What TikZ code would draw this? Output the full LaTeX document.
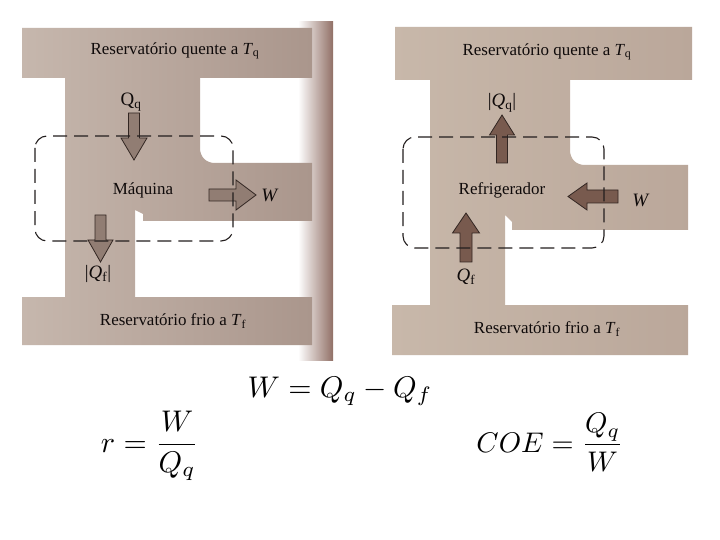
\documentclass[tikz,border=0pt]{standalone}
\usepackage{fontspec}
\setmainfont{Liberation Serif}
\definecolor{tanL}{RGB}{198,183,173}
\definecolor{tanR}{RGB}{170,150,140}
\definecolor{tanRL}{RGB}{200,184,170}
\definecolor{tanRR}{RGB}{186,167,154}
\definecolor{gut}{RGB}{145,112,102}
\definecolor{arrL}{RGB}{145,125,115}
\definecolor{arrR}{RGB}{120,90,78}
\definecolor{arrLine}{RGB}{50,38,34}
\definecolor{boxc}{RGB}{35,30,30}
\definecolor{txt}{RGB}{15,10,10}
\tikzset{
  blockL/.style={fill=arrL, draw=arrLine, line width=0.8bp, line join=miter},
  blockR/.style={fill=arrR, draw=arrLine, line width=0.8bp, line join=miter},
  dashbox/.style={draw=boxc, line width=1.1bp, dash pattern=on 14bp off 7bp, rounded corners=12bp},
  lbl/.style={font=\fontsize{17}{20}\selectfont, inner sep=0pt, text=txt},
  qlbl/.style={font=\fontsize{19}{22}\selectfont, inner sep=0pt, text=txt},
  eq/.style={font=\fontsize{10}{12}\selectfont, inner sep=0pt, text=black, anchor=base, scale=3, transform shape}
}
\begin{document}
\begin{tikzpicture}[x=1bp,y=-1bp]
\useasboundingbox (0,0) rectangle (720,540);
\fill[white] (0,0) rectangle (720,540);
% gutter shadow of left photo
\shade[left color=white, right color=gut] (298,22) rectangle (333,360);
% left tan shape
\shade[left color=tanL, right color=tanR]
  (22,28) -- (312,28) -- (312,78) -- (200,78) -- (200,148)
  .. controls (200,157) and (206,163) .. (215,163)
  -- (312,163) -- (312,221) -- (143,221) -- (143,214) -- (135,210)
  -- (135,297) -- (312,297) -- (312,345) -- (22,345) -- (22,297)
  -- (65,297) -- (65,78) -- (22,78) -- cycle;
% right tan shape
\shade[left color=tanRL, right color=tanRR]
  (395,27) -- (692,27) -- (692,80) -- (570,80) -- (570,150)
  .. controls (570,159) and (576,165) .. (585,165)
  -- (688,165) -- (688,230) -- (512,230) -- (512,222) -- (505,215)
  -- (505,305) -- (688,305) -- (688,355) -- (392,355) -- (392,305)
  -- (430,305) -- (430,80) -- (395,80) -- cycle;
% left arrows
\draw[blockL] (128.5,113) -- (139.5,113) -- (139.5,138) -- (147,138) -- (134,160) -- (121,138) -- (128.5,138) -- cycle;
\draw[blockL] (95,215) -- (106,215) -- (106,240) -- (113,240) -- (100.5,262) -- (88,240) -- (95,240) -- cycle;
\draw[blockL] (209,189) -- (236,189) -- (236,180) -- (256,195) -- (236,210) -- (236,201) -- (209,201) -- cycle;
% right arrows
\draw[blockR] (496.5,163) -- (507.5,163) -- (507.5,135) -- (514.5,135) -- (502,115) -- (489.5,135) -- (496.5,135) -- cycle;
\draw[blockR] (460,262) -- (472,262) -- (472,233) -- (479.5,233) -- (466,213) -- (452.5,233) -- (460,233) -- cycle;
\draw[blockR] (618,190) -- (587,190) -- (587,183) -- (568,196.5) -- (587,210) -- (587,203) -- (618,203) -- cycle;
% dashed boxes
\draw[dashbox] (35,136) rectangle (233,241);
\draw[dashbox] (403,137) rectangle (604,248);
% left labels
\node[lbl] (lhot) at (175,51) {Reservatório quente a \textit{T}\textsubscript{q}};
\node[lbl] (lcold) at (173,321) {Reservatório frio a \textit{T}\textsubscript{f}};
\node[lbl] (maq) at (143,190) {Máquina};
\node[qlbl] (lqq) at (131,102) {Q\textsubscript{q}};
\node[qlbl] (lqf) at (98,274) {|\textit{Q}\textsubscript{f}|};
\node[qlbl] (lw) at (270,195) {\textit{W}};
% right labels
\node[lbl] (rhot) at (547,52) {Reservatório quente a \textit{T}\textsubscript{q}};
\node[lbl] (rcold) at (547,329) {Reservatório frio a \textit{T}\textsubscript{f}};
\node[lbl] (refr) at (502,190) {Refrigerador};
\node[qlbl] (rqq) at (502,103) {|\textit{Q}\textsubscript{q}|};
\node[qlbl] (rqf) at (466,277) {\textit{Q}\textsubscript{f}};
\node[qlbl] (rw) at (641,200) {\textit{W}};
% equations
\node[eq] (eqw) at (340,397) {$W = Q_q - Q_f$};
\node[eq] (eqr) at (150,452) {$\displaystyle r = \frac{W}{Q_q}$};
\node[eq, scale=0.95] (eqc) at (550,452) {$\displaystyle COE = \frac{Q_q}{W}$};
\end{tikzpicture}
\end{document}
